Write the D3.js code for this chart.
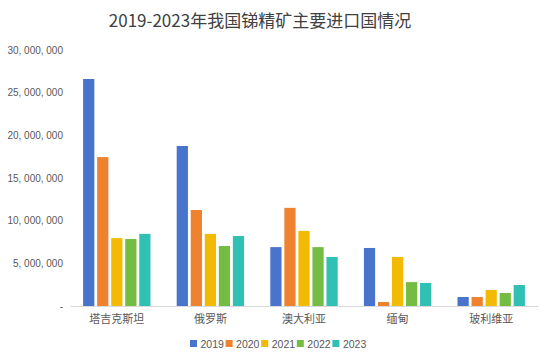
<!DOCTYPE html>
<html>
<head>
<meta charset="utf-8">
<script src="https://cdn.jsdelivr.net/npm/d3@7"></script>
<style>
  body { margin: 0; background: #fff; }
  svg { display: block; font-family: "Noto Sans CJK SC", "Noto Sans", sans-serif; }
</style>
</head>
<body>
<svg id="chart"></svg>
<script>
// Data
const countries = ["塔吉克斯坦", "俄罗斯", "澳大利亚", "缅甸", "玻利维亚"];
const years = ["2019", "2020", "2021", "2022", "2023"];
const v2019 = [26600000, 18750000, 6900000, 6800000, 1050000];
const v2020 = [17450000, 11250000, 11500000, 470000, 1050000];
const v2021 = [7950000, 8450000, 8800000, 5750000, 1880000];
const v2022 = [7850000, 7030000, 6900000, 2800000, 1520000];
const v2023 = [8450000, 8200000, 5750000, 2700000, 2460000];
const yTicks = [0, 5000000, 10000000, 15000000, 20000000, 25000000, 30000000];
const colors = ["#4874CB", "#EE822F", "#F2BA02", "#75BD42", "#30C0B4"];

const series = [v2019, v2020, v2021, v2022, v2023];
const rows = countries.map((c, i) => ({ country: c, values: series.map(s => s[i]) }));

const width = 554, height = 363;
const margin = { top: 50, right: 16, bottom: 57, left: 70 };

const svg = d3.select("#chart")
    .attr("width", width)
    .attr("height", height);

// Title
svg.append("text")
    .attr("x", 260)
    .attr("y", 27)
    .attr("text-anchor", "middle")
    .attr("font-size", 17)
    .attr("fill", "#404040")
    .text("2019-2023年我国锑精矿主要进口国情况");

const x = d3.scaleBand()
    .domain(countries)
    .range([margin.left, width - margin.right])
    .paddingInner(0.28)
    .paddingOuter(0.14);

const y = d3.scaleLinear()
    .domain([0, 30000000])
    .range([height - margin.bottom, margin.top]);

const xSub = d3.scaleBand()
    .domain(years)
    .range([0, x.bandwidth()])
    .paddingInner(0.2);

// Y axis labels (no line, no grid)
const fmt = d3.format(",");
const yAxis = svg.append("g")
    .attr("transform", `translate(${margin.left},0)`)
    .call(d3.axisLeft(y).tickValues(yTicks).tickSize(0).tickPadding(7)
        .tickFormat(d => d === 0 ? "-" : fmt(d).replace(/,/g, ", ")));
yAxis.select(".domain").remove();
yAxis.selectAll("text")
    .attr("font-family", "'Liberation Sans', Arial, sans-serif")
    .attr("font-size", 10)
    .attr("fill", "#595959");

// Bars
const groups = svg.append("g")
    .selectAll("g")
    .data(rows)
    .enter()
    .append("g")
    .attr("transform", d => `translate(${x(d.country)},0)`);

groups.selectAll("rect")
    .data(d => d.values.map((v, i) => ({ year: years[i], value: v, i: i })))
    .enter()
    .append("rect")
    .attr("x", d => xSub(d.year))
    .attr("y", d => y(d.value))
    .attr("width", xSub.bandwidth())
    .attr("height", d => y(0) - y(d.value))
    .attr("fill", d => colors[d.i]);

// X axis
const xAxis = svg.append("g")
    .attr("transform", `translate(0,${y(0)})`)
    .call(d3.axisBottom(x).tickSize(0).tickPadding(9));
xAxis.select(".domain")
    .attr("stroke", "#d9d9d9")
    .attr("stroke-width", 1);
xAxis.selectAll("text")
    .attr("font-family", "'Noto Sans CJK SC', sans-serif")
    .attr("font-size", 11)
    .attr("fill", "#595959");

// Legend
const legend = svg.append("g")
    .attr("transform", "translate(190,340)");
const item = legend.selectAll("g")
    .data(years)
    .enter()
    .append("g")
    .attr("transform", (d, i) => `translate(${i * 35.6},0)`);
item.append("rect")
    .attr("width", 7)
    .attr("height", 7)
    .attr("fill", (d, i) => colors[i]);
item.append("text")
    .attr("x", 10.5)
    .attr("y", 7.5)
    .attr("font-family", "'Liberation Sans', Arial, sans-serif")
    .attr("font-size", 10.5)
    .attr("fill", "#595959")
    .text(d => d);
</script>
</body>
</html>
